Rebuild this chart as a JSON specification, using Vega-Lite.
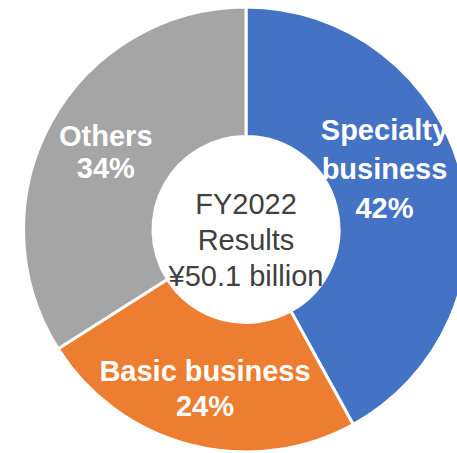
{
  "$schema": "https://vega.github.io/schema/vega-lite/v6.json",
  "autosize": {"type": "none"},
  "width": 422,
  "height": 447,
  "padding": {"left": 35, "top": 6, "right": 0, "bottom": 0},
  "background": "white",
  "view": {"stroke": null},
  "data": {
    "values": [
      {"category": "Specialty business", "value": 42, "order": 1, "label": "Specialty\nbusiness\n42%"},
      {"category": "Basic business", "value": 24, "order": 2, "label": "Basic business\n24%"},
      {"category": "Others", "value": 34, "order": 3, "label": "Others\n34%"}
    ]
  },
  "encoding": {
    "theta": {"field": "value", "type": "quantitative", "stack": true},
    "order": {"field": "order", "type": "quantitative"}
  },
  "layer": [
    {
      "mark": {"type": "arc", "outerRadius": 222.5, "innerRadius": 93, "stroke": "white", "strokeWidth": 3},
      "encoding": {
        "color": {
          "field": "category",
          "type": "nominal",
          "scale": {"domain": ["Specialty business", "Basic business", "Others"], "range": ["#4472C4", "#ED7D31", "#A5A5A5"]},
          "legend": null
        }
      }
    },
    {
      "mark": {"type": "text", "radius": 160, "dy": -15, "font": "Liberation Sans", "fontWeight": "bold", "fontSize": 29, "fill": "white", "lineBreak": "\n", "lineHeight": 32},
      "encoding": {
        "text": {"condition": {"test": "datum.category !== 'Others'", "value": ""}, "field": "label", "type": "nominal"}
      }
    },
    {
      "mark": {"type": "text", "radius": 165, "dy": -17, "font": "Liberation Sans", "fontWeight": "bold", "fontSize": 29, "fill": "white", "lineBreak": "\n", "lineHeight": 34.5},
      "encoding": {
        "text": {"condition": {"test": "datum.category !== 'Basic business'", "value": ""}, "field": "label", "type": "nominal"}
      }
    },
    {
      "mark": {"type": "text", "radius": 150.7, "thetaOffset": -0.154, "dy": -39, "font": "Liberation Sans", "fontWeight": "bold", "fontSize": 29, "fill": "white", "lineBreak": "\n", "lineHeight": 39},
      "encoding": {
        "text": {"condition": {"test": "datum.category !== 'Specialty business'", "value": ""}, "field": "label", "type": "nominal"}
      }
    },
    {
      "data": {"values": [{"center": "FY2022\nResults\n¥50.1 billion"}]},
      "mark": {"type": "text", "font": "Liberation Sans", "fontSize": 29, "fill": "#404040", "lineBreak": "\n", "lineHeight": 36, "dy": -24.5},
      "encoding": {
        "theta": null,
        "order": null,
        "text": {"field": "center", "type": "nominal"}
      }
    }
  ]
}
